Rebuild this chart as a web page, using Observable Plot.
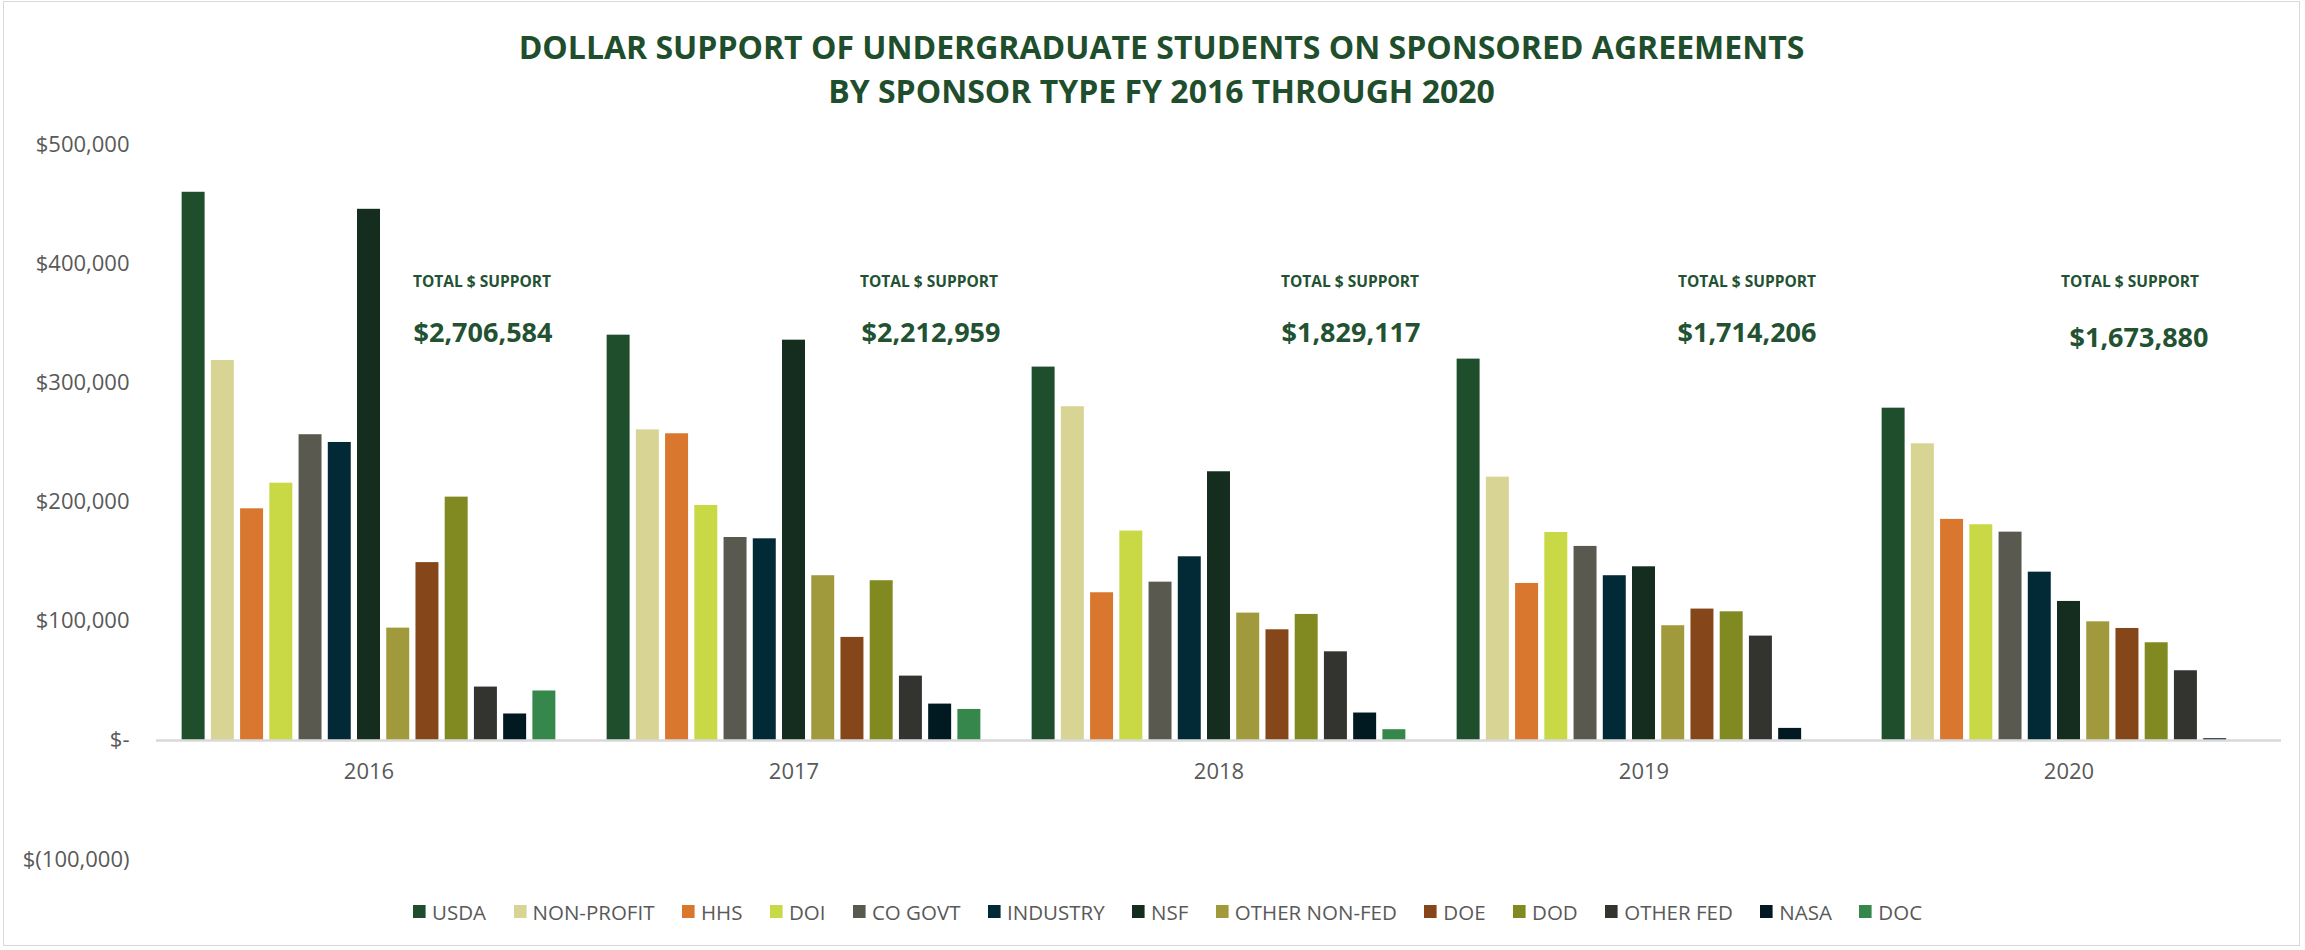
<!DOCTYPE html>
<html>
<head>
<meta charset="utf-8">
<script src="https://cdn.jsdelivr.net/npm/d3@7"></script>
<script src="https://cdn.jsdelivr.net/npm/@observablehq/plot@0.6"></script>
<style>
  html, body { margin: 0; padding: 0; background: #ffffff; }
  #chart { position: relative; width: 2305px; height: 950px; overflow: hidden; font-family: 'Open Sans', sans-serif; }
  #border { position: absolute; left: 3px; top: 1px; width: 2297px; height: 945px; border: 1.5px solid #d9d9d9; box-sizing: border-box; }
  #title { position: absolute; left: 9px; top: 25px; width: 2305px; text-align: center; color: #1f4e2d; font-weight: 700; font-size: 32px; line-height: 44px; }
  #plot { position: absolute; left: 0; top: 100px; }
  #legend { position: absolute; left: 413px; top: 895px; width: 1700px; }
  .lg-swatches { margin: 0 !important; font-family: 'Open Sans', sans-serif !important; font-size: 20.5px !important; color: #595959 !important; min-height: 33px; }
  .lg-swatch { margin-right: 27.5px !important; }
  .lg-swatch > svg { margin-right: 6.4px !important; }
</style>
</head>
<body>
<div id="chart">
  <div id="border"></div>
  <div id="title">DOLLAR SUPPORT OF UNDERGRADUATE STUDENTS ON SPONSORED AGREEMENTS<br>BY SPONSOR TYPE FY 2016 THROUGH 2020</div>
  <div id="plot"></div>
  <div id="legend"></div>
</div>
<script>
// ---- data ----
const sponsors = ["USDA", "NON-PROFIT", "HHS", "DOI", "CO GOVT", "INDUSTRY", "NSF", "OTHER NON-FED", "DOE", "DOD", "OTHER FED", "NASA", "DOC"];
const years = [2016, 2017, 2018, 2019, 2020];
const fy2016 = [460300, 319000, 194500, 216000, 256700, 250200, 446000, 94300, 149300, 204300, 44800, 22200, 41500];
const fy2017 = [340300, 260800, 257500, 197300, 170400, 169300, 336100, 138300, 86500, 134100, 54000, 30500, 26000];
const fy2018 = [313500, 280200, 124000, 175800, 132900, 154200, 225600, 106900, 92900, 105800, 74400, 23000, 9000];
const fy2019 = [320200, 221100, 131800, 174600, 162900, 138300, 145800, 96300, 110300, 108000, 87600, 10100, 0];
const fy2020 = [279000, 249100, 185600, 181100, 174900, 141300, 116700, 99600, 94000, 82000, 58500, 1400, 0];
const totals = [2706584, 2212959, 1829117, 1714206, 1673880];
const yTicks = [-100000, 0, 100000, 200000, 300000, 400000, 500000];
const totalLabel = "TOTAL $ SUPPORT";

// ---- styles / placement ----
const colors = ["#1f4e2c", "#d8d494", "#d9772e", "#c9d845", "#595950", "#022a36", "#142d1e", "#a09a3c", "#85471a", "#808a21", "#333430", "#011a21", "#36874b"];
const green = "#225231";
const labelDx = [113, 135, 131, 103, 61];
const valueDx = [114, 137, 132, 103, 70];
const valueDy = [188.5, 188.5, 188.5, 188.5, 193.5];

const series = [fy2016, fy2017, fy2018, fy2019, fy2020];
const table = years.flatMap((yr, i) => sponsors.map((s, j) => ({year: yr, sponsor: s, value: series[i][j]})));

const comma = d3.format(",");
const acct = d => d === 0 ? "$-" : d < 0 ? `$(${comma(-d)})` : `$${comma(d)}`;

const totalMarks = years.flatMap((yr, i) => [
  Plot.text([yr], {fx: d => d, frameAnchor: "top", lineAnchor: "middle", textAnchor: "middle", dx: labelDx[i], dy: 137.2,
    text: () => totalLabel, fontSize: 15.5, fontWeight: "bold", fill: green}),
  Plot.text([yr], {fx: d => d, frameAnchor: "top", lineAnchor: "middle", textAnchor: "middle", dx: valueDx[i], dy: valueDy[i],
    text: () => "$" + comma(totals[i]), fontSize: 27, fontWeight: "bold", fill: green})
]);

const plot = Plot.plot({
  width: 2305,
  height: 800,
  marginLeft: 155,
  marginRight: 23.5,
  marginTop: 44.5,
  marginBottom: 41,
  style: {fontFamily: "'Open Sans', sans-serif", background: "transparent", overflow: "visible"},
  fx: {domain: years, padding: 0, axis: null, label: null},
  x: {domain: sponsors, paddingInner: 0.214, paddingOuter: 0.877, round: false, axis: null, label: null},
  y: {domain: [-100000, 500000], label: null},
  color: {domain: sponsors, range: colors},
  marks: [
    Plot.axisY({ticks: yTicks, tickFormat: acct, tickSize: 0, tickPadding: 27, fontSize: 22, color: "#595959", label: null}),
    Plot.barY(table, {fx: "year", x: "sponsor", y: "value", fill: "sponsor"}),
    Plot.ruleY([0], {stroke: "#d9d9d9", strokeWidth: 2.5}),
    Plot.text(years, {fx: d => d, y: 0, dy: 32, text: d => String(d), fontSize: 22, fill: "#595959", lineAnchor: "middle"}),
    ...totalMarks
  ]
});
document.getElementById("plot").appendChild(plot);

const legend = Plot.legend({
  color: {domain: sponsors, range: colors},
  legend: "swatches",
  swatchWidth: 12.6,
  swatchHeight: 13,
  className: "lg"
});
document.getElementById("legend").appendChild(legend);
</script>
</body>
</html>
